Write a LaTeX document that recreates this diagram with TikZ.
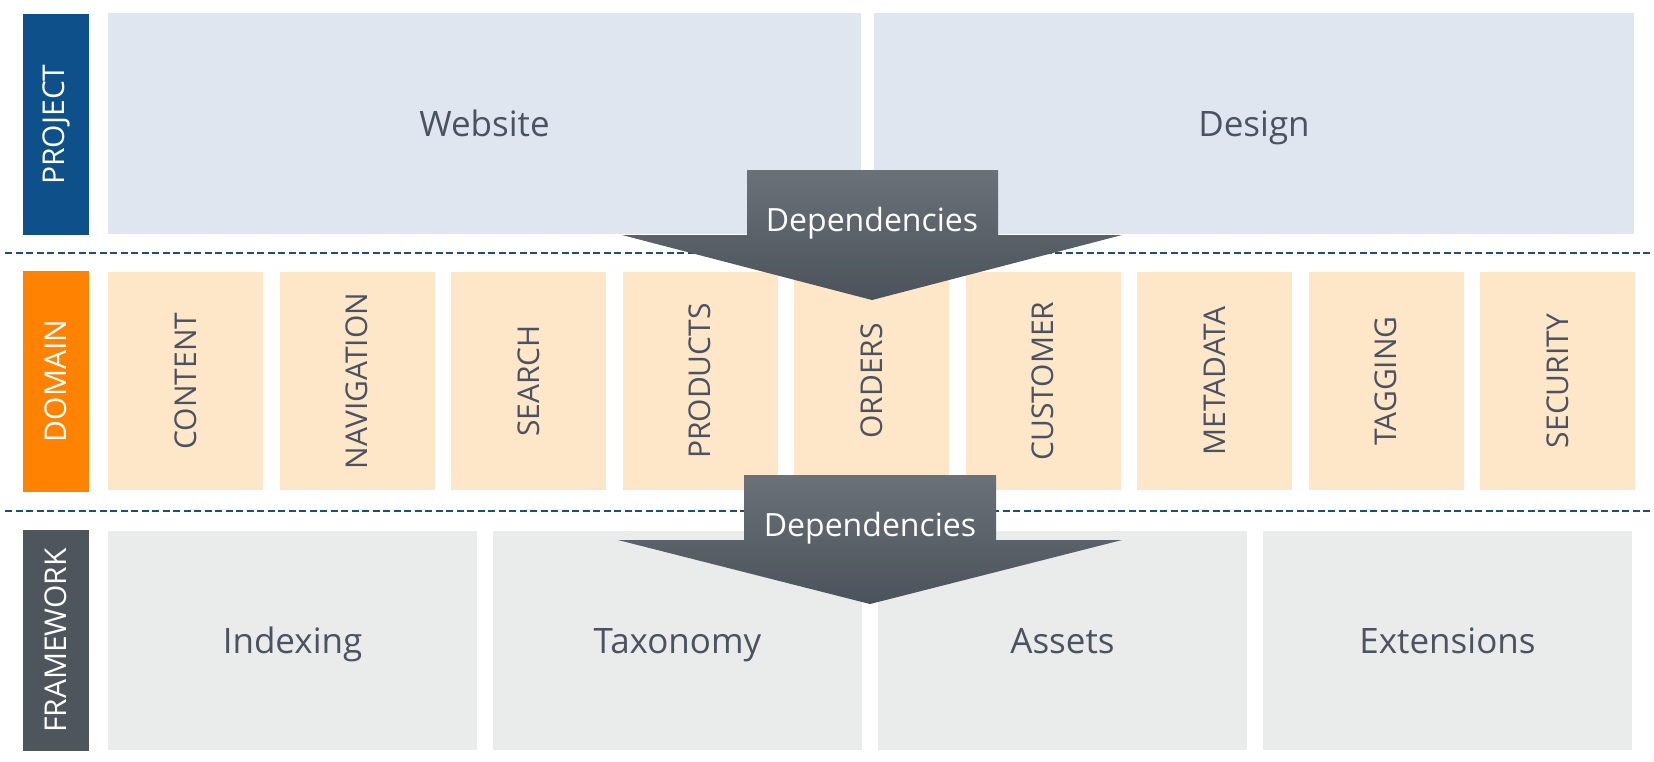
\documentclass[tikz,border=0pt]{standalone}
\usepackage{fontspec}
\setmainfont{Open Sans}

\definecolor{projblue}{HTML}{0E518A}
\definecolor{domorange}{HTML}{FF8200}
\definecolor{fwgray}{HTML}{4F555D}
\definecolor{projfill}{HTML}{DFE6F0}
\definecolor{domfill}{HTML}{FEE6C8}
\definecolor{fwfill}{HTML}{EAECEC}
\definecolor{arrtop}{HTML}{6B7178}
\definecolor{arrbot}{HTML}{4A525B}
\definecolor{boxtext}{HTML}{4B5361}
\definecolor{sepblue}{HTML}{1F4F75}

\tikzset{
  layerlabel/.style={rotate=90, text=white, inner sep=0pt,
    minimum width=110.5pt, minimum height=33pt,
    font=\fontsize{15}{18}\selectfont},
  projbox/.style={fill=projfill, text=boxtext, inner sep=0pt,
    minimum height=110.5pt, text height=12.5pt, text depth=0pt,
    font=\fontsize{17.5}{21}\selectfont},
  dombox/.style={fill=domfill, text=boxtext, rotate=90, inner sep=0pt,
    minimum width=109pt, minimum height=77.5pt,
    font=\fontsize{15}{18}\selectfont},
  fwbox/.style={fill=fwfill, text=boxtext, inner sep=0pt,
    minimum width=184.5pt, minimum height=109.5pt,
    text height=12.5pt, text depth=0pt,
    font=\fontsize{17.5}{21}\selectfont},
  sepline/.style={sepblue, line width=1pt, dash pattern=on 3.5pt off 1.75pt},
  deparrow/.style={top color=arrtop, bottom color=arrbot},
  deplabel/.style={text=white, anchor=base, inner sep=0pt,
    font=\fontsize{16}{19}\selectfont}
}

\begin{document}
\begin{tikzpicture}[x=0.5pt, y=-0.5pt]

    \useasboundingbox[fill=white] (0,0) rectangle (1654,761);

    % Layer labels
    \node[layerlabel, fill=projblue] (projlbl) at (56,124.5) {PROJECT};
    \node[layerlabel, fill=domorange] (domlbl) at (56,381) {DOMAIN};
    \node[layerlabel, fill=fwgray] (fwlbl) at (56,640.5) {FRAMEWORK};

    % Project layer
    \node[projbox, minimum width=376.5pt] (website) at (484.5,123.5) {Website};
    \node[projbox, minimum width=380pt] (design) at (1254,123.5) {Design};

    % Domain layer
    \foreach \name [count=\i from 0] in {CONTENT, NAVIGATION, SEARCH, PRODUCTS,
        ORDERS, CUSTOMER, METADATA, TAGGING, SECURITY}
        \node[dombox] (dom\i) at (185.5+171.5*\i, 381) {\name};

    % Framework layer
    \foreach \name [count=\i from 0] in {Indexing, Taxonomy, Assets, Extensions}
        \node[fwbox] (fw\i) at (292.5+385*\i, 640.5) {\name};

    % Separators between the layers
    \draw[sepline] (5,253) -- (1654,253);
    \draw[sepline] (5,511) -- (1654,511);

    % Dependency arrow project -> domain
    \shade[deparrow] (747,170) -- (998,170) -- (998,235) -- (1122,235)
        -- (872,300) -- (622,235) -- (747,235) -- cycle;
    \node[deplabel] (dep1) at (872,231) {Dependencies};

    % Dependency arrow domain -> framework
    \shade[deparrow] (744,475) -- (996,475) -- (996,540) -- (1122,540)
        -- (870,604) -- (618,540) -- (744,540) -- cycle;
    \node[deplabel] (dep2) at (870,536) {Dependencies};

\end{tikzpicture}
\end{document}
